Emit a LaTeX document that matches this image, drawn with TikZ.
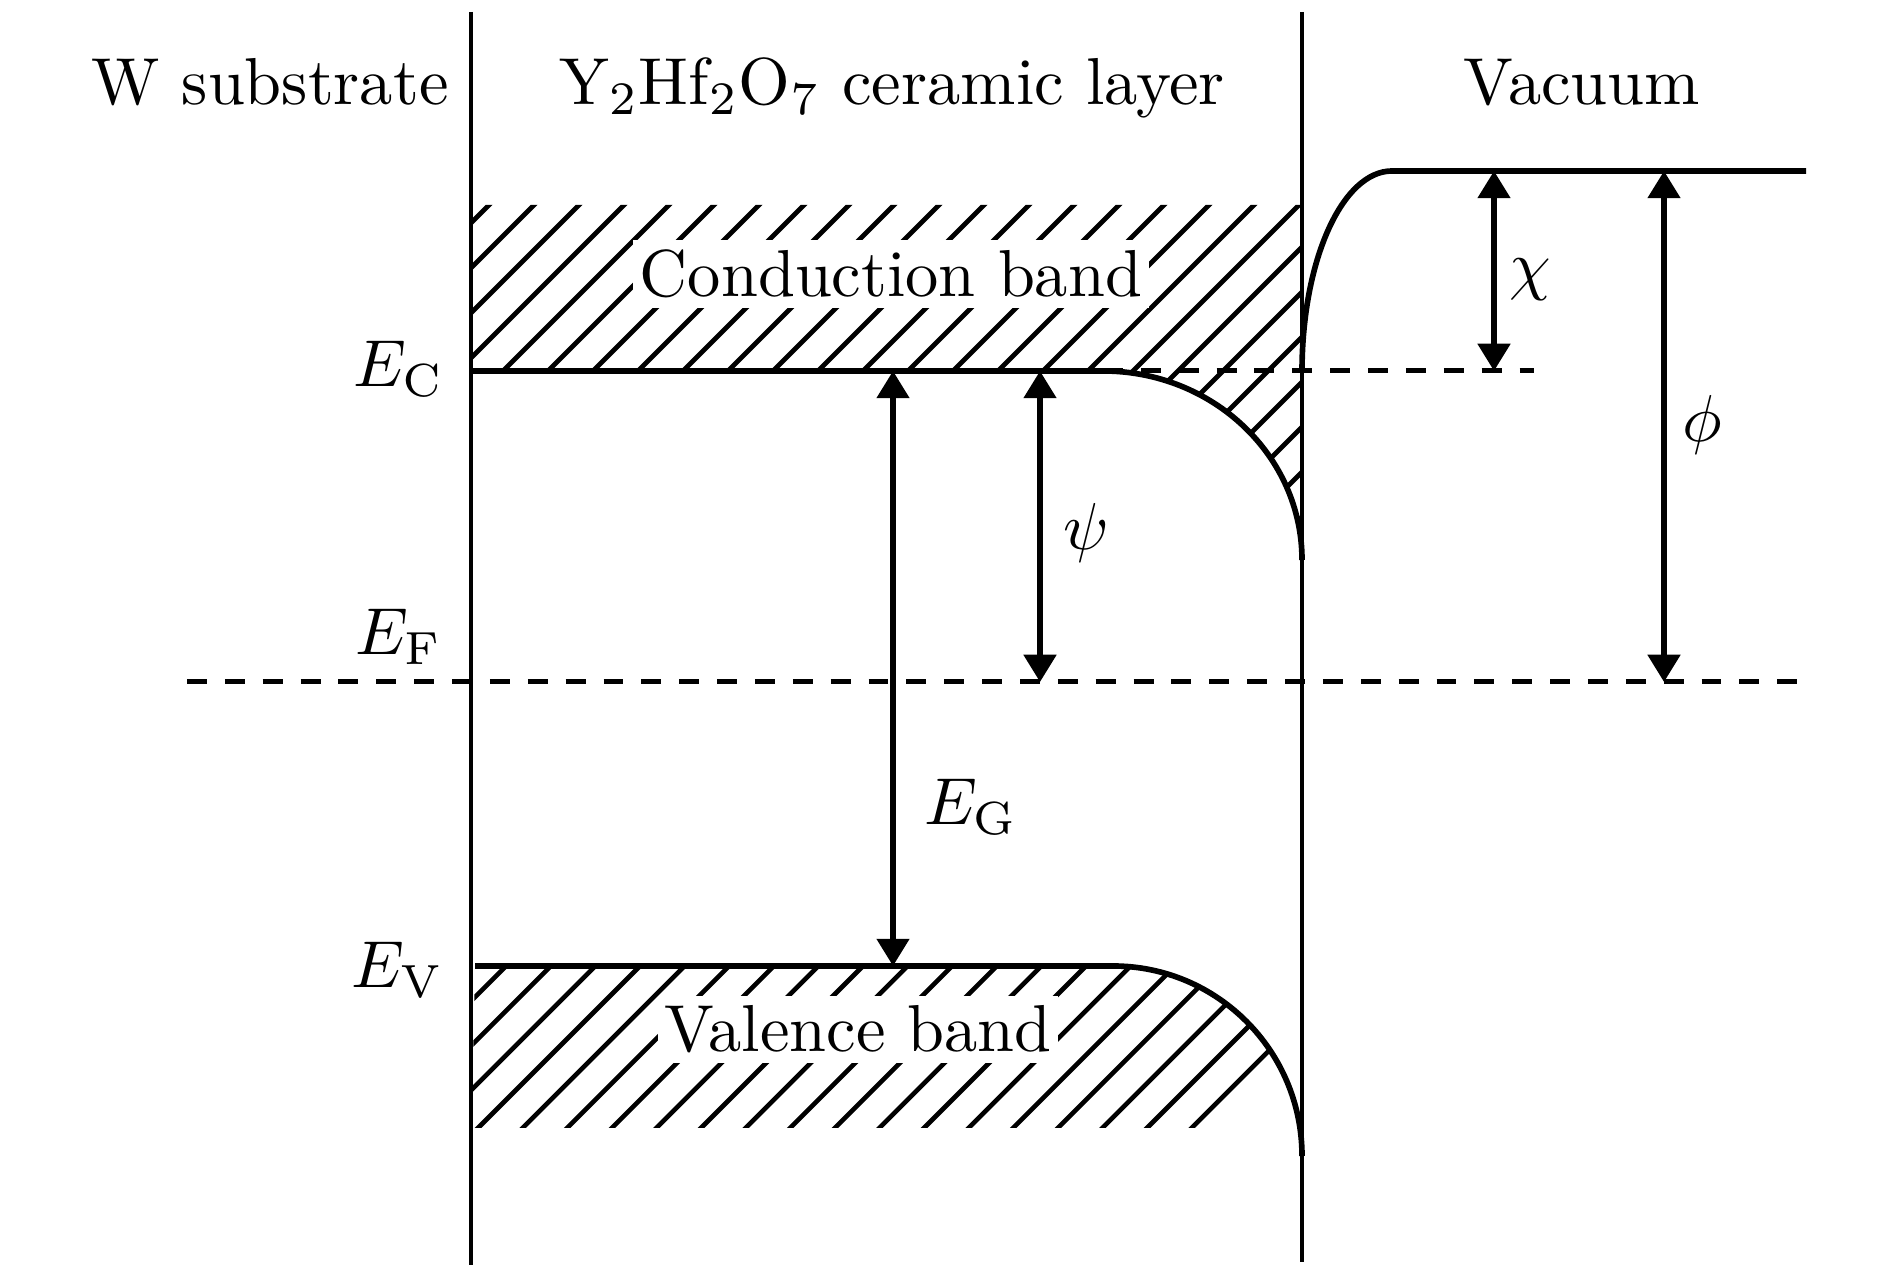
\documentclass[tikz,border=0pt]{standalone}
\usepackage{amsmath}
\usetikzlibrary{arrows.meta}

\begin{document}
\begin{tikzpicture}[x=0.5291mm,y=0.5291mm,line width=0.65pt,
  edge/.style={line width=0.85pt},
  fermi/.style={line width=0.75pt,dash pattern=on 3pt off 2.7pt},
  hatch/.style={line width=0.7pt},
  gap/.style={line width=0.8pt,{Triangle[length=4.1pt,width=4.8pt]}-{Triangle[length=4.1pt,width=4.8pt]}},
  bandname/.style={fill=white,inner xsep=1pt,inner ysep=1.5pt,anchor=base},
  lbl/.style={anchor=base}]
\useasboundingbox (0,0) rectangle (189,-127.6);
% band edges
\coordinate (ecL) at (47.1,-37.1);
\coordinate (ecB) at (110.3,-37.1);
\coordinate (ecR) at (130.2,-56.0);
\coordinate (evL) at (47.5,-96.6);
\coordinate (evB) at (111.3,-96.6);
\coordinate (evR) at (130.2,-115.6);
\coordinate (vacB) at (130.2,-37.1);
\coordinate (vacT) at (139.2,-17.1);
\coordinate (vacR) at (180.6,-17.1);
\coordinate (ecD) at (153.4,-37.1);
\coordinate (efL) at (18.7,-68.2);
\coordinate (efR) at (181.5,-68.2);
% hatching of the conduction band
\begin{scope}
\clip (47.1,-20.5) -- (130.2,-20.5) -- (ecR) arc[start angle=0,end angle=90,x radius=19.9,y radius=18.9] -- (ecL) -- cycle;
\foreach \x in {27.8,32.3,...,152} \draw[hatch] (\x-20,-57.1) -- (\x+17,-20.1);
\end{scope}
% hatching of the valence band
\begin{scope}
\clip (47.1,-112.8) rectangle (130.2,-96.6);
\clip (evL) -- (evB) arc[start angle=90,end angle=0,x radius=18.9,y radius=19] -- (47.1,-115.6) -- cycle;
\foreach \x in {41.7,46.16,...,136} \draw[hatch] (\x+1,-95.6) -- (\x-17,-113.6);
\end{scope}
\node[bandname] (cb) at (89.1,-29.7) {Conduction band};
\node[bandname] (vb) at (85.8,-105.2) {Valence band};
% walls
\draw (47.1,-1.2) -- (47.1,-126.5);
\draw (130.2,-1.2) -- (130.2,-126.2);
% levels
\draw[edge] (ecL) -- (ecB) arc[start angle=90,end angle=0,x radius=19.9,y radius=18.9];
\draw[edge] (evL) -- (evB) arc[start angle=90,end angle=0,x radius=18.9,y radius=19];
\draw[edge] (vacB) arc[start angle=180,end angle=90,x radius=9,y radius=20] -- (vacR);
\draw[fermi] (efL) -- (efR);
\draw[fermi] (ecB) -- (ecD);
% gaps
\coordinate (gT) at (89.3,-37.1);
\coordinate (gB) at (89.3,-96.6);
\coordinate (pT) at (104.0,-37.1);
\coordinate (pB) at (104.0,-68.2);
\coordinate (cT) at (149.4,-17.1);
\coordinate (cB) at (149.4,-37.1);
\coordinate (fT) at (166.4,-17.1);
\coordinate (fB) at (166.4,-68.2);
\draw[gap] (gT) -- (gB);
\draw[gap] (pT) -- (pB);
\draw[gap] (cT) -- (cB);
\draw[gap] (fT) -- (fB);
% labels
\node[lbl] (sub) at (27.0,-10.5) {W substrate};
\node[lbl] (cer) at (89.2,-10.5) {Y$_2$Hf$_2$O$_7$ ceramic layer};
\node[lbl] (vac) at (158.2,-10.5) {Vacuum};
\node[anchor=base east,inner sep=0pt] (ec) at (44.6,-38.7) {$E_{\mathrm{C}}$};
\node[anchor=base east,inner sep=0pt] (ef) at (44.4,-65.5) {$E_{\mathrm{F}}$};
\node[anchor=base east,inner sep=0pt] (ev) at (44.6,-98.8) {$E_{\mathrm{V}}$};
\node[anchor=base west,inner sep=0pt] (eg) at (92.2,-82.5) {$E_{\mathrm{G}}$};
\node (psi) at (108.6,-53.3) {$\psi$};
\node (chi) at (153.0,-28.0) {$\chi$};
\node (phi) at (170.2,-42.5) {$\phi$};
\end{tikzpicture}
\end{document}
